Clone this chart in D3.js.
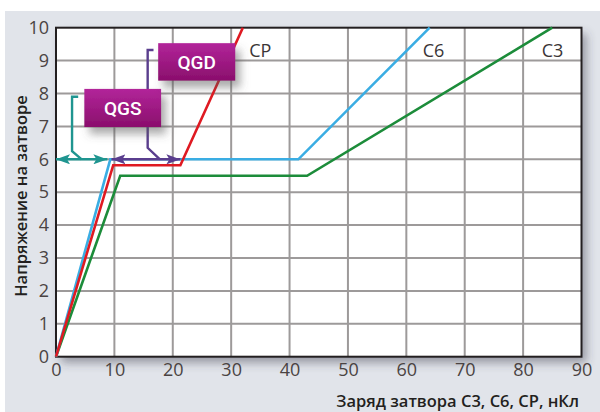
<!DOCTYPE html>
<html>
<head>
<meta charset="utf-8">
<script src="https://cdn.jsdelivr.net/npm/d3@7"></script>
<style>
  html, body { margin: 0; padding: 0; background: #ffffff; }
  svg { display: block; }
</style>
</head>
<body>
<svg id="chart" width="600" height="412"></svg>
<script>
// Gate charge curves: gate voltage (V) vs gate charge (nC)
const xTicks = [0, 10, 20, 30, 40, 50, 60, 70, 80, 90];
const yTicks = [0, 1, 2, 3, 4, 5, 6, 7, 8, 9, 10];

const seriesNames = ["C3", "C6", "CP"];
const chargeC3 = [0, 11, 43, 85];
const voltC3   = [0, 5.5, 5.5, 10];
const chargeC6 = [0, 9.3, 41.5, 64];
const voltC6   = [0, 6, 6, 10];
const chargeCP = [0, 9.8, 21.3, 32];
const voltCP   = [0, 5.82, 5.82, 10];

// Plateau markers (QGS / QGD spans at the Miller plateau)
const qgsSpan = [0, 8.8];
const qgdSpan = [9.5, 21.3];
const plateauV = 6;

const xTitle = "Заряд затвора С3, С6, СР, нКл";
const yTitle = "Напряжение на затворе";

const svg = d3.select("#chart");
const W = 600, H = 412;
const plot = { left: 56, right: 581.5, top: 27.7, bottom: 356.7 };

const x = d3.scaleLinear().domain([0, 90]).range([plot.left, plot.right]);
const y = d3.scaleLinear().domain([0, 10]).range([plot.bottom, plot.top]);

const defs = svg.append("defs");
const sh = defs.append("filter").attr("id", "plotShadow")
  .attr("x", "-10%").attr("y", "-10%").attr("width", "125%").attr("height", "130%");
sh.append("feDropShadow").attr("dx", 5).attr("dy", 6).attr("stdDeviation", 5)
  .attr("flood-color", "#3a3a4a").attr("flood-opacity", 0.45);

const bsh = defs.append("filter").attr("id", "boxShadow")
  .attr("x", "-30%").attr("y", "-40%").attr("width", "170%").attr("height", "200%");
bsh.append("feDropShadow").attr("dx", 5).attr("dy", 7).attr("stdDeviation", 4)
  .attr("flood-color", "#555555").attr("flood-opacity", 0.5);

const grad = defs.append("linearGradient").attr("id", "boxFill")
  .attr("x1", 0).attr("y1", 0).attr("x2", 0).attr("y2", 1);
grad.append("stop").attr("offset", "0%").attr("stop-color", "#b2259a");
grad.append("stop").attr("offset", "100%").attr("stop-color", "#8a0e6c");

function arrowMarker(id, color, reverse) {
  const m = defs.append("marker").attr("id", id)
    .attr("viewBox", "0 0 14 10").attr("refX", 14).attr("refY", 5)
    .attr("markerWidth", 14).attr("markerHeight", 10)
    .attr("markerUnits", "userSpaceOnUse")
    .attr("orient", reverse ? "auto-start-reverse" : "auto");
  m.append("path").attr("d", "M0,0 L14,5 L0,10 L3,5 Z").attr("fill", color);
}
arrowMarker("arrTeal", "#1f9590", true);
arrowMarker("arrPurple", "#5a3e8e", true);

// Background panel
svg.append("rect").attr("x", 5).attr("y", 11).attr("width", W - 5).attr("height", H - 11)
  .attr("fill", "#e1e4ea");

// Plot area
svg.append("rect")
  .attr("x", plot.left).attr("y", plot.top)
  .attr("width", plot.right - plot.left).attr("height", plot.bottom - plot.top)
  .attr("fill", "#ffffff").attr("filter", "url(#plotShadow)");

// Grid
const grid = svg.append("g");
grid.selectAll("line.vx").data(xTicks.slice(1, -1)).join("line")
  .attr("x1", d => x(d)).attr("x2", d => x(d))
  .attr("y1", plot.top).attr("y2", plot.bottom)
  .attr("stroke", "#9d9a9a").attr("stroke-width", 2);
grid.selectAll("line.hy").data(yTicks.slice(1, -1)).join("line")
  .attr("y1", d => y(d)).attr("y2", d => y(d))
  .attr("x1", plot.left).attr("x2", plot.right)
  .attr("stroke", "#9d9a9a").attr("stroke-width", 2);

// Frame
svg.append("rect")
  .attr("x", plot.left).attr("y", plot.top)
  .attr("width", plot.right - plot.left).attr("height", plot.bottom - plot.top)
  .attr("fill", "none").attr("stroke", "#231f20").attr("stroke-width", 2);

// Axes (tick labels only)
const tickFont = "'Open Sans', 'Noto Sans', sans-serif";
const xAxis = svg.append("g").attr("transform", `translate(0,${plot.bottom})`)
  .call(d3.axisBottom(x).tickValues(xTicks).tickSize(0).tickPadding(10));
const yAxis = svg.append("g").attr("transform", `translate(${plot.left},0)`)
  .call(d3.axisLeft(y).tickValues(yTicks).tickSize(0).tickPadding(7));
[xAxis, yAxis].forEach(a => {
  a.select(".domain").remove();
  a.selectAll("text").attr("font-family", tickFont).attr("font-size", 18)
    .attr("fill", "#4a4342");
});
xAxis.selectAll("text").attr("dy", "0.75em").attr("y", 6);

// Series
const seriesData = [
  { name: "C3", xs: chargeC3, ys: voltC3, color: "#1c8c3a" },
  { name: "C6", xs: chargeC6, ys: voltC6, color: "#3aade3" },
  { name: "CP", xs: chargeCP, ys: voltCP, color: "#df1a22" }
];
const line = d3.line().x(d => x(d[0])).y(d => y(d[1]));
svg.append("g").selectAll("path").data(seriesData).join("path")
  .attr("d", s => line(s.xs.map((v, i) => [v, s.ys[i]])))
  .attr("fill", "none").attr("stroke", s => s.color)
  .attr("stroke-width", 2.6).attr("stroke-linejoin", "miter");

// Series labels
const labelPos = { CP: [33.1, 9.3], C6: [62.8, 9.3], C3: [83.2, 9.3] };
svg.append("g").selectAll("text").data(seriesNames).join("text")
  .attr("x", d => x(labelPos[d][0])).attr("y", d => y(labelPos[d][1]))
  .attr("dy", "0.35em")
  .attr("font-family", tickFont).attr("font-size", 18).attr("fill", "#3a3536")
  .text(d => d);

// QGS bracket and span arrow
const ann = svg.append("g").attr("fill", "none").attr("stroke-width", 2.4);
ann.append("path")
  .attr("d", `M${x(3.8)},${y(7.9)} H${x(2.75)} V${y(6.25)} L${x(4.4)},${y(plateauV)}`)
  .attr("stroke", "#1f9590");
ann.append("line")
  .attr("x1", x(qgsSpan[0])).attr("x2", x(qgsSpan[1]))
  .attr("y1", y(plateauV)).attr("y2", y(plateauV))
  .attr("stroke", "#1f9590")
  .attr("marker-start", "url(#arrTeal)").attr("marker-end", "url(#arrTeal)");

// QGD bracket and span arrow
ann.append("path")
  .attr("d", `M${x(16.7)},${y(9.32)} H${x(15.7)} V${y(6.35)} L${x(17.8)},${y(plateauV)}`)
  .attr("stroke", "#5a3e8e");
ann.append("line")
  .attr("x1", x(qgdSpan[0])).attr("x2", x(qgdSpan[1]))
  .attr("y1", y(plateauV)).attr("y2", y(plateauV))
  .attr("stroke", "#5a3e8e")
  .attr("marker-start", "url(#arrPurple)").attr("marker-end", "url(#arrPurple)");

// Labelled boxes
const boxes = [
  { text: "QGS", x0: 4.85, x1: 18.0, y0: 8.14, y1: 6.98 },
  { text: "QGD", x0: 17.5, x1: 30.7, y0: 9.53, y1: 8.39 }
];
const bg = svg.append("g").selectAll("g").data(boxes).join("g");
bg.append("rect")
  .attr("x", d => x(d.x0)).attr("y", d => y(d.y0))
  .attr("width", d => x(d.x1) - x(d.x0)).attr("height", d => y(d.y1) - y(d.y0))
  .attr("fill", "url(#boxFill)").attr("filter", "url(#boxShadow)");
bg.append("text")
  .attr("x", d => (x(d.x0) + x(d.x1)) / 2).attr("y", d => (y(d.y0) + y(d.y1)) / 2)
  .attr("dy", "0.36em").attr("text-anchor", "middle")
  .attr("font-family", "Roboto, 'Liberation Sans', sans-serif").attr("font-weight", 500)
  .attr("font-size", 19).attr("fill", "#ffffff")
  .text(d => d.text);

// Axis titles
svg.append("text")
  .attr("x", 579).attr("y", 407).attr("text-anchor", "end")
  .attr("font-family", "'Open Sans', 'Noto Sans', sans-serif").attr("font-weight", 600)
  .attr("font-size", 16.5).attr("fill", "#231f20")
  .text(xTitle);
svg.append("text")
  .attr("transform", `translate(27,${196}) rotate(-90)`)
  .attr("text-anchor", "middle")
  .attr("font-family", "'Open Sans', 'Noto Sans', sans-serif").attr("font-weight", 600)
  .attr("font-size", 16.5).attr("fill", "#231f20")
  .text(yTitle);
</script>
</body>
</html>
